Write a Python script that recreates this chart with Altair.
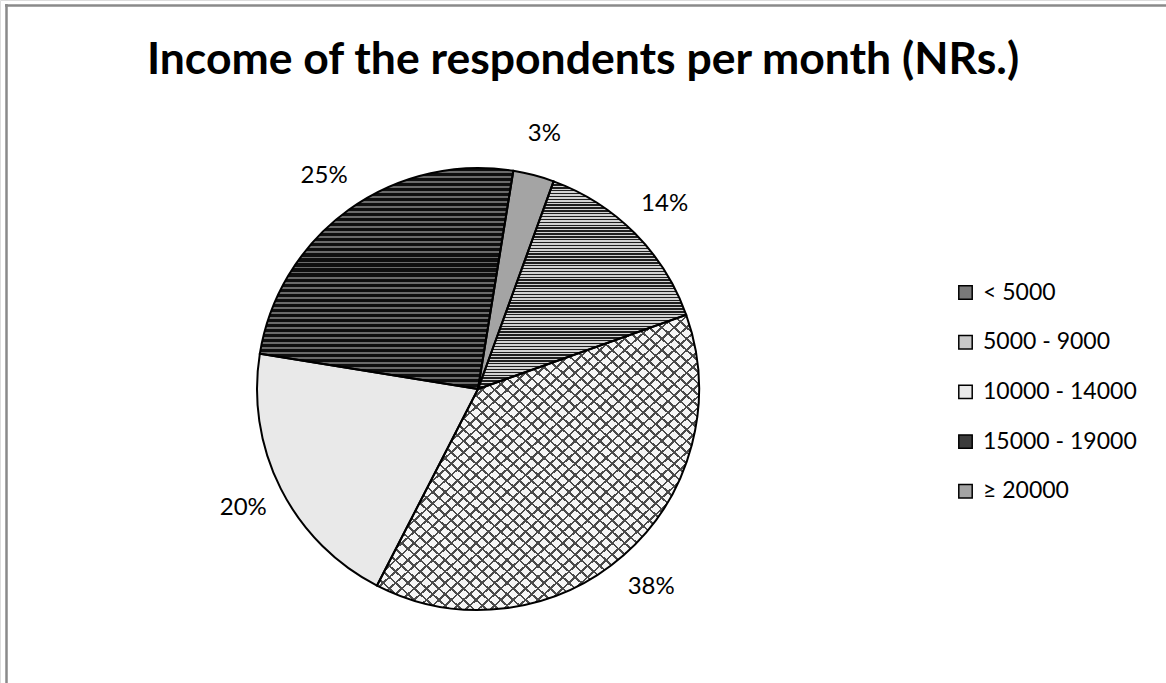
import altair as alt
import pandas as pd
import math

categories = ["< 5000", "5000 - 9000", "10000 - 14000", "15000 - 19000", "≥ 20000"]
percent = [14, 38, 20, 25, 3]
labels = ["14%", "38%", "20%", "25%", "3%"]
fills = ["#7a7a7a", "#c8c8c8", "#e9e9e9", "#3c3c3c", "#a4a4a4"]

df = pd.DataFrame({"cat": categories, "pct": percent, "label": labels, "idx": list(range(len(categories)))})

W, H = 1166, 683
CX, CY, R = 478, 389, 221
rot = math.radians(20)
total = float(sum(percent))

theta_scale = alt.Scale(domain=[0, total], range=[rot, rot + 2 * math.pi])


def stripes(n, dark, light, frac, x1, y1, x2, y2):
    stops = []
    for i in range(n):
        a = i / n
        b = (i + frac) / n
        c = (i + 1) / n
        stops += [
            {"offset": a, "color": dark},
            {"offset": b, "color": dark},
            {"offset": b, "color": light},
            {"offset": c, "color": light},
        ]
    return {"gradient": "linear", "x1": x1, "y1": y1, "x2": x2, "y2": y2, "stops": stops}


base = (
    alt.Chart(df)
    .transform_window(cum_end="sum(pct)", sort=[alt.SortField("idx", order="ascending")], frame=[None, 0])
    .transform_calculate(cum_start="datum.cum_end - datum.pct", mid="datum.cum_end - datum.pct / 2")
)

pos = dict(x=alt.value(CX), y=alt.value(CY))

arcs = base.mark_arc(radius=R).encode(
    theta=alt.Theta("cum_start:Q", scale=theta_scale),
    theta2="cum_end:Q",
    color=alt.Color(
        "cat:N",
        scale=alt.Scale(domain=categories, range=fills),
        sort=categories,
        legend=alt.Legend(
            title=None,
            orient="none",
            legendX=954,
            legendY=281,
            symbolType="square",
            symbolSize=180,
            symbolStrokeColor="black",
            symbolStrokeWidth=1.5,
            symbolOpacity=1,
            labelFont="Lato",
            labelFontSize=23,
            labelColor="black",
            labelOffset=6,
            rowPadding=25.7,
        ),
    ),
    **pos,
)


def overlay(cat, fill):
    return (
        base.transform_filter(alt.datum.cat == cat)
        .mark_arc(radius=R, fill=fill)
        .encode(theta=alt.Theta("cum_start:Q", scale=theta_scale), theta2="cum_end:Q", **pos)
    )


# horizontal lines for "< 5000"
ov1 = overlay(categories[0], stripes(72, "#1e1e1e", "#d2d2d2", 0.5, 0, 0, 0, 1))
# cross hatch for "5000 - 9000"
ov2a = overlay(categories[1], "#f6f6f6")
ov2b = overlay(categories[1], stripes(52, "#4a4a4a", "rgba(255,255,255,0)", 0.22, 0, 0, 1, 1))
ov2c = overlay(categories[1], stripes(52, "#4a4a4a", "rgba(255,255,255,0)", 0.22, 1, 0, 0, 1))
# dark dotted rows for "15000 - 19000"
ov4 = overlay(categories[3], stripes(44, "#0e0e0e", "#6a6a6a", 0.62, 0, 0, 0, 1))

outline = base.mark_arc(radius=R, fill="transparent", stroke="black", strokeWidth=2).encode(
    theta=alt.Theta("cum_start:Q", scale=theta_scale), theta2="cum_end:Q", **pos
)

text = base.mark_text(radius=263, font="Lato", fontSize=24, color="black").encode(
    theta=alt.Theta("mid:Q", scale=theta_scale),
    text="label:N",
    **pos,
)

title = alt.Chart(pd.DataFrame({"t": ["Income of the respondents per month (NRs.)"]})).mark_text(
    font="Lato", fontSize=44.5, fontWeight="bold", color="black", align="center", baseline="alphabetic"
).encode(x=alt.value(583), y=alt.value(74), text="t:N")

frame_left = alt.Chart(pd.DataFrame({"a": [0]})).mark_rule(color="#8a8a8a", strokeWidth=2.5).encode(
    x=alt.value(6.5), y=alt.value(4), y2=alt.value(H)
)
frame_top = alt.Chart(pd.DataFrame({"a": [0]})).mark_rule(color="#8a8a8a", strokeWidth=2.5).encode(
    x=alt.value(5), x2=alt.value(W), y=alt.value(5.5)
)

chart = alt.layer(arcs, ov1, ov2a, ov2b, ov2c, ov4, outline, text, title, frame_left, frame_top).properties(
    width=W, height=H, padding=0, autosize=alt.AutoSizeParams(type="none")
).configure_view(stroke=None).configure(background="white")

chart.save("out.html", embed_options={"renderer": "svg", "actions": False})
